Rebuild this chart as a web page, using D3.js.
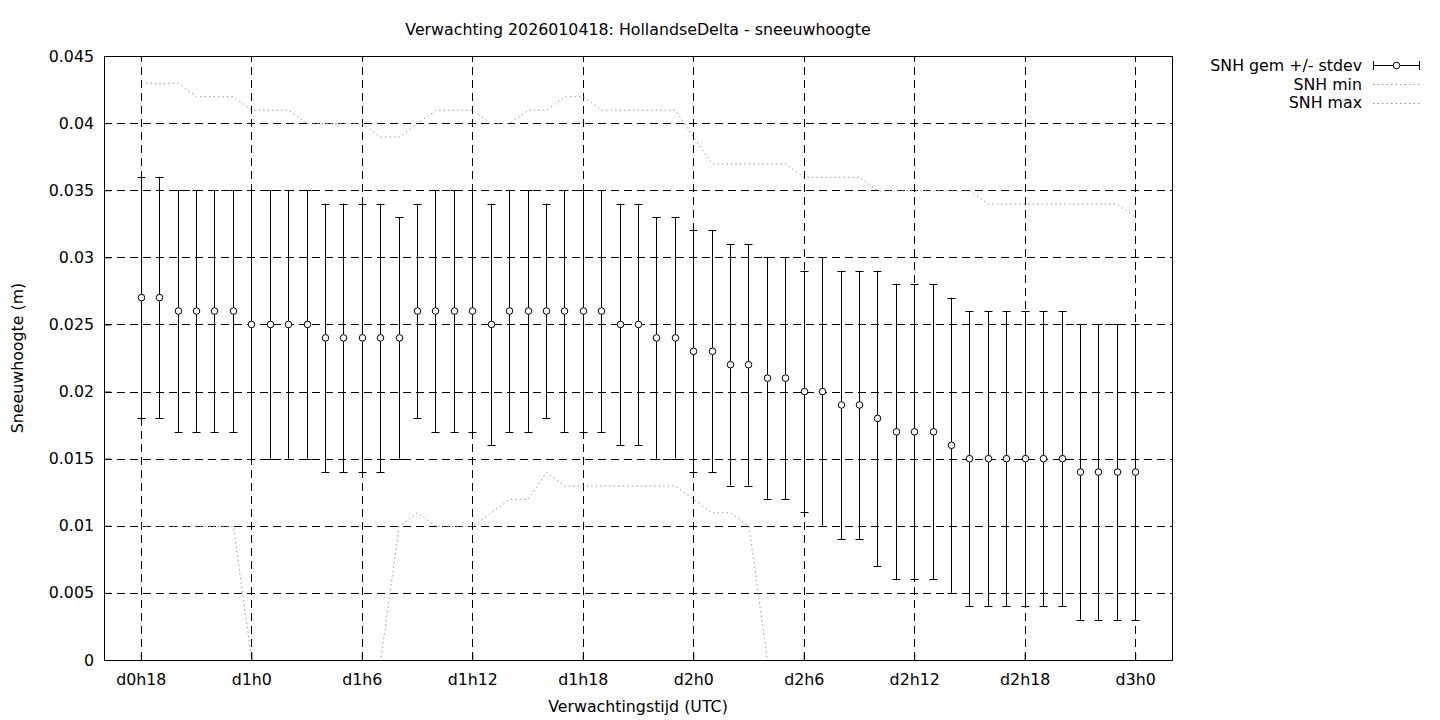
<!DOCTYPE html>
<html>
<head>
<meta charset="utf-8">
<script src="https://cdn.jsdelivr.net/npm/d3@7"></script>
<style>
body { margin: 0; background: #fff; }
text { font-family: "DejaVu Sans", sans-serif; font-size: 15.8px; fill: #000; }
</style>
</head>
<body>
<div id="chart"></div>
<script>
// verwachtingsuren (uur na d0h0)
const uren = [18, 19, 20, 21, 22, 23, 24, 25, 26, 27, 28, 29, 30, 31, 32, 33, 34, 35, 36, 37,
    38, 39, 40, 41, 42, 43, 44, 45, 46, 47, 48, 49, 50, 51, 52, 53, 54, 55, 56, 57,
    58, 59, 60, 61, 62, 63, 64, 65, 66, 67, 68, 69, 70, 71, 72];

const snhGem = [0.027, 0.027, 0.026, 0.026, 0.026, 0.026, 0.025, 0.025, 0.025, 0.025,
    0.024, 0.024, 0.024, 0.024, 0.024, 0.026, 0.026, 0.026, 0.026, 0.025,
    0.026, 0.026, 0.026, 0.026, 0.026, 0.026, 0.025, 0.025, 0.024, 0.024,
    0.023, 0.023, 0.022, 0.022, 0.021, 0.021, 0.020, 0.020, 0.019, 0.019,
    0.018, 0.017, 0.017, 0.017, 0.016, 0.015, 0.015, 0.015, 0.015, 0.015,
    0.015, 0.014, 0.014, 0.014, 0.014];

const snhLaag = [0.018, 0.018, 0.017, 0.017, 0.017, 0.017, 0.015, 0.015, 0.015, 0.015,
    0.014, 0.014, 0.014, 0.014, 0.015, 0.018, 0.017, 0.017, 0.017, 0.016,
    0.017, 0.017, 0.018, 0.017, 0.017, 0.017, 0.016, 0.016, 0.015, 0.015,
    0.014, 0.014, 0.013, 0.013, 0.012, 0.012, 0.011, 0.010, 0.009, 0.009,
    0.007, 0.006, 0.006, 0.006, 0.005, 0.004, 0.004, 0.004, 0.004, 0.004,
    0.004, 0.003, 0.003, 0.003, 0.003];

const snhHoog = [0.036, 0.036, 0.035, 0.035, 0.035, 0.035, 0.035, 0.035, 0.035, 0.035,
    0.034, 0.034, 0.034, 0.034, 0.033, 0.034, 0.035, 0.035, 0.035, 0.034,
    0.035, 0.035, 0.034, 0.035, 0.035, 0.035, 0.034, 0.034, 0.033, 0.033,
    0.032, 0.032, 0.031, 0.031, 0.030, 0.030, 0.029, 0.030, 0.029, 0.029,
    0.029, 0.028, 0.028, 0.028, 0.027, 0.026, 0.026, 0.026, 0.026, 0.026,
    0.026, 0.025, 0.025, 0.025, 0.025];

const snhMin = [0.010, 0.010, 0.010, 0.010, 0.010, 0.010, 0, 0, 0, 0,
    0, 0, 0, 0, 0.010, 0.011, 0.010, 0.010, 0.010, 0.011,
    0.012, 0.012, 0.014, 0.013, 0.013, 0.013, 0.013, 0.013, 0.013, 0.013,
    0.012, 0.011, 0.011, 0.010, 0, 0, 0, 0, 0, 0,
    0, 0, 0, 0, 0, 0, 0, 0, 0, 0,
    0, 0, 0, 0, 0];

const snhMax = [0.043, 0.043, 0.043, 0.042, 0.042, 0.042, 0.041, 0.041, 0.041, 0.040,
    0.040, 0.040, 0.040, 0.039, 0.039, 0.040, 0.041, 0.041, 0.041, 0.040,
    0.040, 0.041, 0.041, 0.042, 0.042, 0.041, 0.041, 0.041, 0.041, 0.041,
    0.039, 0.037, 0.037, 0.037, 0.037, 0.037, 0.036, 0.036, 0.036, 0.036,
    0.035, 0.035, 0.035, 0.035, 0.035, 0.035, 0.034, 0.034, 0.034, 0.034,
    0.034, 0.034, 0.034, 0.034, 0.033];

const tickUren = [18, 24, 30, 36, 42, 48, 54, 60, 66, 72];
const tickLabels = ["d0h18", "d1h0", "d1h6", "d1h12", "d1h18", "d2h0", "d2h6", "d2h12", "d2h18", "d3h0"];
const yTicks = [0, 0.005, 0.01, 0.015, 0.02, 0.025, 0.03, 0.035, 0.04, 0.045];

const width = 1440, height = 720;
const plot = {left: 104, right: 1172, top: 56, bottom: 660};

let svg = d3.select("#chart")
    .append("svg")
    .attr("width", width)
    .attr("height", height);

let x = d3.scaleLinear().domain([16, 74]).range([plot.left, plot.right]);
let y = d3.scaleLinear().domain([0, 0.045]).range([plot.bottom, plot.top]);

// clip een halve pixel ruimer, zodat een lijn op 0 onder de rand valt
svg.append("clipPath")
    .attr("id", "plotclip")
    .append("rect")
    .attr("x", plot.left)
    .attr("y", plot.top)
    .attr("width", plot.right - plot.left)
    .attr("height", plot.bottom - plot.top + 1);

// grid
let grid = svg.append("g")
    .attr("stroke", "#000")
    .attr("stroke-width", 1)
    .attr("stroke-dasharray", "8,5");

grid.selectAll("line.gx")
    .data(tickUren)
    .enter()
    .append("line")
    .attr("x1", d => Math.round(x(d)) + 0.5)
    .attr("x2", d => Math.round(x(d)) + 0.5)
    .attr("y1", plot.bottom)
    .attr("y2", plot.top);

grid.selectAll("line.gy")
    .data(yTicks.slice(1, -1))
    .enter()
    .append("line")
    .attr("y1", d => Math.round(y(d)) + 0.5)
    .attr("y2", d => Math.round(y(d)) + 0.5)
    .attr("x1", plot.left)
    .attr("x2", plot.right);

// min / max lijnen
let dotLine = d3.line()
    .x((d, i) => x(uren[i]) + 0.5)
    .y(d => y(d) + 0.5);

let lijnen = svg.append("g").attr("clip-path", "url(#plotclip)");

[snhMin, snhMax].forEach(serie => {
    lijnen.append("path")
        .datum(serie)
        .attr("d", dotLine)
        .attr("fill", "none")
        .attr("stroke", "#999")
        .attr("stroke-width", 1)
        .attr("stroke-dasharray", "1.5,3");
});

// errorbars
let bars = svg.append("g")
    .selectAll("g")
    .data(uren.map((u, i) => ({u: u, gem: snhGem[i], laag: snhLaag[i], hoog: snhHoog[i]})))
    .enter()
    .append("g")
    .attr("transform", d => `translate(${Math.round(x(d.u)) + 0.5}, 0)`);

bars.append("line")
    .attr("y1", d => y(d.laag))
    .attr("y2", d => y(d.hoog))
    .attr("stroke", "#000");

bars.append("line")
    .attr("x1", -4).attr("x2", 4)
    .attr("y1", d => Math.round(y(d.laag)) + 0.5)
    .attr("y2", d => Math.round(y(d.laag)) + 0.5)
    .attr("stroke", "#000");

bars.append("line")
    .attr("x1", -4).attr("x2", 4)
    .attr("y1", d => Math.round(y(d.hoog)) + 0.5)
    .attr("y2", d => Math.round(y(d.hoog)) + 0.5)
    .attr("stroke", "#000");

bars.append("circle")
    .attr("cy", d => y(d.gem))
    .attr("r", 3.3)
    .attr("fill", "#fff")
    .attr("stroke", "#000");

// assen
let xAxis = svg.append("g")
    .attr("transform", `translate(0, ${plot.bottom})`)
    .call(d3.axisBottom(x)
        .tickValues(tickUren)
        .tickFormat((d, i) => tickLabels[i])
        .tickSizeInner(-7)
        .tickSizeOuter(0)
        .tickPadding(14));

let yAxis = svg.append("g")
    .attr("transform", `translate(${plot.left}, 0)`)
    .call(d3.axisLeft(y)
        .tickValues(yTicks)
        .tickFormat(d => String(+d.toFixed(3)))
        .tickSizeInner(-7)
        .tickSizeOuter(0)
        .tickPadding(10));

[xAxis, yAxis].forEach(a => {
    a.select(".domain").remove();
    a.selectAll("text").style("font-family", "DejaVu Sans").style("font-size", "15.8px");
});

svg.append("rect")
    .attr("x", plot.left + 0.5)
    .attr("y", plot.top + 0.5)
    .attr("width", plot.right - plot.left)
    .attr("height", plot.bottom - plot.top)
    .attr("fill", "none")
    .attr("stroke", "#000");

// titels
svg.append("text")
    .attr("x", 638)
    .attr("y", 35)
    .attr("text-anchor", "middle")
    .text("Verwachting 2026010418: HollandseDelta - sneeuwhoogte");

svg.append("text")
    .attr("x", 638)
    .attr("y", 712)
    .attr("text-anchor", "middle")
    .text("Verwachtingstijd (UTC)");

svg.append("text")
    .attr("transform", `translate(23, ${(plot.top + plot.bottom) / 2}) rotate(-90)`)
    .attr("text-anchor", "middle")
    .text("Sneeuwhoogte (m)");

// legenda
let legenda = svg.append("g");
let legItems = ["SNH gem +/- stdev", "SNH min", "SNH max"];

legenda.selectAll("text")
    .data(legItems)
    .enter()
    .append("text")
    .attr("x", 1362)
    .attr("y", (d, i) => 71 + i * 18.5)
    .attr("text-anchor", "end")
    .text(d => d);

legenda.append("line")
    .attr("x1", 1373).attr("x2", 1420)
    .attr("y1", 65.5).attr("y2", 65.5)
    .attr("stroke", "#000");
[1373.5, 1419.5].forEach(cx => {
    legenda.append("line")
        .attr("x1", cx).attr("x2", cx)
        .attr("y1", 61).attr("y2", 70)
        .attr("stroke", "#000");
});
legenda.append("circle")
    .attr("cx", 1396.5).attr("cy", 65.5)
    .attr("r", 3.3)
    .attr("fill", "#fff")
    .attr("stroke", "#000");

[84.5, 103.5].forEach(ly => {
    legenda.append("line")
        .attr("x1", 1373).attr("x2", 1420)
        .attr("y1", ly).attr("y2", ly)
        .attr("stroke", "#999")
        .attr("stroke-dasharray", "1.5,3");
});
</script>
</body>
</html>
